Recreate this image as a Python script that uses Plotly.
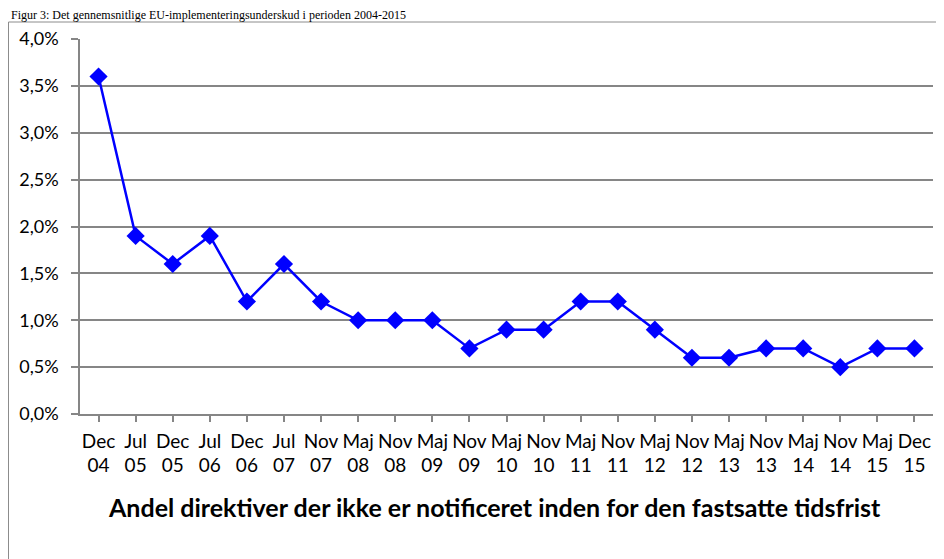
import plotly.graph_objects as go

months = ["Dec", "Jul", "Dec", "Jul", "Dec", "Jul", "Nov", "Maj", "Nov", "Maj", "Nov", "Maj",
          "Nov", "Maj", "Nov", "Maj", "Nov", "Maj", "Nov", "Maj", "Nov", "Maj", "Dec"]
years = ["04", "05", "05", "06", "06", "07", "07", "08", "08", "09", "09", "10",
         "10", "11", "11", "12", "12", "13", "13", "14", "14", "15", "15"]
values = [3.6, 1.9, 1.6, 1.9, 1.2, 1.6, 1.2, 1.0, 1.0, 1.0, 0.7, 0.9,
          0.9, 1.2, 1.2, 0.9, 0.6, 0.6, 0.7, 0.7, 0.5, 0.7, 0.7]
y_ticks = [0.0, 0.5, 1.0, 1.5, 2.0, 2.5, 3.0, 3.5, 4.0]
y_labels = ["0,0%", "0,5%", "1,0%", "1,5%", "2,0%", "2,5%", "3,0%", "3,5%", "4,0%"]
x_title = "Andel direktiver der ikke er notificeret inden for den fastsatte tidsfrist"
fig_title = "Figur 3: Det gennemsnitlige EU-implementeringsunderskud i perioden 2004-2015"

cats = [f"{m}<br>{y}" for m, y in zip(months, years)]

FONT = "Lato, Open Sans, sans-serif"

fig = go.Figure()
fig.add_trace(go.Scatter(
    x=list(range(len(values))), y=values, mode="lines+markers",
    line=dict(color="#0000FF", width=2.5),
    marker=dict(symbol="diamond", size=14, color="#0000FF"),
    hoverinfo="skip", showlegend=False, cliponaxis=False,
))

# page body has an 8px margin: work in figure pixels
W, H = 936, 551
L, R, T, B = 72, 11, 31, 145
pw, ph = W - L - R, H - T - B

def px_x(p):
    return (p - L) / pw

def px_y(p):
    return 1 - (p - T) / ph

fig.update_layout(
    width=W, height=H,
    margin=dict(l=L, r=R, t=T, b=B),
    paper_bgcolor="white", plot_bgcolor="white",
    font=dict(family=FONT, color="#000000", size=18),
    xaxis=dict(
        range=[-0.5, len(values) - 0.5],
        tickmode="array", tickvals=list(range(len(values))), ticktext=cats,
        showgrid=False, zeroline=False,
        showline=True, linecolor="#868686", linewidth=1.5,
        ticks="outside", tickson="boundaries", ticklen=6, tickcolor="#868686", tickwidth=1.5,
        ticklabelstandoff=3,
        tickfont=dict(size=19, family=FONT),
        fixedrange=True,
    ),
    yaxis=dict(
        range=[0, 4.0],
        tickmode="array", tickvals=y_ticks, ticktext=y_labels,
        showgrid=True, gridcolor="#868686", gridwidth=1.5,
        zeroline=False,
        showline=True, linecolor="#868686", linewidth=1.5,
        ticks="outside", ticklen=7, tickcolor="#868686", tickwidth=1.5,
        ticklabelstandoff=9,
        tickfont=dict(size=18, family=FONT),
        fixedrange=True,
    ),
    shapes=[dict(
        type="rect", xref="paper", yref="paper",
        x0=px_x(0.5), x1=px_x(945), y0=px_y(560), y1=px_y(14),
        line=dict(color="#8c8c8c", width=1), fillcolor="rgba(0,0,0,0)", layer="below",
    )],
    annotations=[
        dict(
            text=fig_title, xref="paper", yref="paper",
            x=px_x(1), y=px_y(6.5), xanchor="left", yanchor="middle",
            showarrow=False, font=dict(family="Liberation Serif, serif", size=12, color="#000000"),
        ),
        dict(
            text="<b>" + x_title + "</b>", xref="paper", yref="paper",
            x=px_x(494 - 8), y=px_y(507 - 8), xanchor="center", yanchor="middle",
            showarrow=False, font=dict(family=FONT, size=25, color="#000000"),
        ),
    ],
)

fig.write_html("out.html")
